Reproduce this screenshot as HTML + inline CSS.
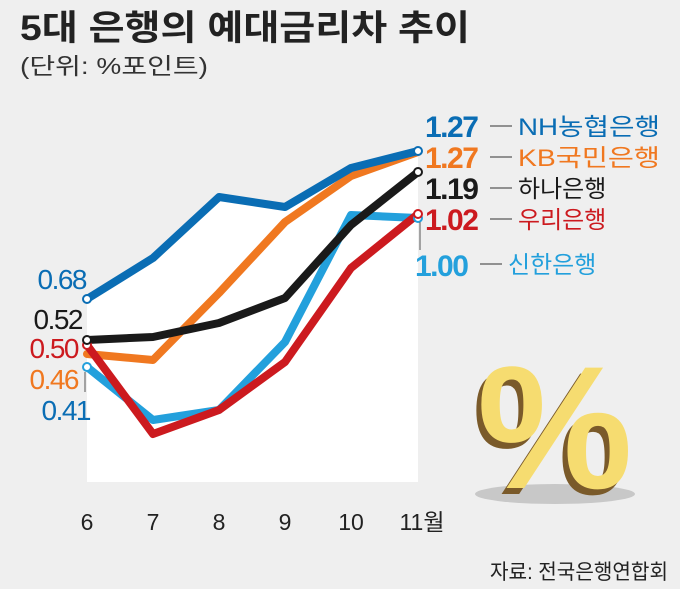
<!DOCTYPE html>
<html><head><meta charset="utf-8"><style>
body{margin:0;width:680px;height:589px;background:#efefef;overflow:hidden;font-family:"Liberation Sans","Noto Sans CJK KR",sans-serif}
</style></head><body>
<svg width="680" height="589" xmlns="http://www.w3.org/2000/svg" style="position:absolute;left:0;top:0">
<rect width="680" height="589" fill="#efefef"/>
<text x="20" y="40" font-size="35" font-weight="bold" fill="#222" font-family="Liberation Sans,Noto Sans CJK KR,sans-serif" textLength="450" lengthAdjust="spacingAndGlyphs">5대 은행의 예대금리차 추이</text>
<text x="20" y="74" font-size="23" fill="#333" font-family="Liberation Sans,Noto Sans CJK KR,sans-serif" textLength="188" lengthAdjust="spacingAndGlyphs">(단위: %포인트)</text>
<polygon points="87,299 153,258 219,197 285,207 351,168 418,151 418,482 87,482" fill="#fff"/>
<g fill="none" stroke-width="8" stroke-linejoin="round" stroke-linecap="round">
<polyline points="87,367 153,420 219,410 285,342 351,215 418,218" stroke="#23a0dc"/>
<polyline points="87,354 153,360 219,293 285,222 351,176 418,152" stroke="#f07820"/>
<polyline points="87,299 153,258 219,197 285,207 351,168 418,151" stroke="#0a6db4"/>
<polyline points="87,340 153,337 219,323 285,298 351,225 418,172" stroke="#1a1a1a"/>
<polyline points="87,345 153,434 219,410 285,362 351,268 418,214" stroke="#cc1a1f"/>
</g>
<g fill="#fff" stroke-width="2">
<circle cx="87" cy="367" r="4" stroke="#23a0dc"/>
<circle cx="87" cy="299" r="4" stroke="#0a6db4"/>
<circle cx="87" cy="345" r="4" stroke="#cc1a1f"/>
<circle cx="87" cy="340" r="4" stroke="#1a1a1a"/>
<circle cx="418" cy="218" r="4" stroke="#23a0dc"/>
<circle cx="418" cy="151" r="4" stroke="#0a6db4"/>
<circle cx="418" cy="172" r="4" stroke="#1a1a1a"/>
<circle cx="418" cy="214" r="4" stroke="#cc1a1f"/>
</g>
<line x1="85" y1="372" x2="85" y2="392" stroke="#555"/>
<line x1="420" y1="222" x2="420" y2="250" stroke="#555"/>
<g font-size="28" font-family="Liberation Sans,sans-serif" text-anchor="end" letter-spacing="-1.5">
<text x="86" y="289" fill="#0a6db4">0.68</text>
<text x="82" y="329" fill="#1a1a1a">0.52</text>
<text x="78" y="358" fill="#cc1a1f">0.50</text>
<text x="78" y="389" fill="#f07820">0.46</text>
<text x="90" y="420" fill="#0a6db4">0.41</text>
</g>
<g font-size="30" font-weight="bold" font-family="Liberation Sans,sans-serif" letter-spacing="-1.5">
<text x="425" y="137" fill="#0a6db4">1.27</text>
<text x="425" y="168" fill="#f07820">1.27</text>
<text x="425" y="199" fill="#1a1a1a">1.19</text>
<text x="425" y="230" fill="#cc1a1f">1.02</text>
<text x="415" y="276" fill="#23a0dc">1.00</text>
</g>
<g stroke="#333" stroke-width="1">
<line x1="490" y1="126" x2="512" y2="126"/><line x1="490" y1="157" x2="512" y2="157"/>
<line x1="490" y1="188" x2="512" y2="188"/><line x1="490" y1="219" x2="512" y2="219"/>
<line x1="480" y1="264" x2="502" y2="264"/>
</g>
<g font-size="24" font-family="Liberation Sans,Noto Sans CJK KR,sans-serif">
<text x="518" y="135" fill="#0a6db4" textLength="142" lengthAdjust="spacingAndGlyphs">NH농협은행</text>
<text x="518" y="166" fill="#f07820" textLength="142" lengthAdjust="spacingAndGlyphs">KB국민은행</text>
<text x="518" y="197" fill="#1a1a1a">하나은행</text>
<text x="518" y="228" fill="#cc1a1f">우리은행</text>
<text x="508" y="273" fill="#23a0dc">신한은행</text>
</g>
<g font-size="23" fill="#222" text-anchor="middle" font-family="Liberation Sans,Noto Sans CJK KR,sans-serif">
<text x="87" y="530">6</text><text x="153" y="530">7</text><text x="219" y="530">8</text>
<text x="285" y="530">9</text><text x="351" y="530">10</text><text x="422" y="530">11월</text>
</g>
<ellipse cx="555" cy="494" rx="80" ry="10" fill="#c8c8c8"/>
<g font-size="175" font-weight="bold" font-family="Liberation Sans,sans-serif">
<text x="472" y="494" fill="#7a5a2a">%</text>
<text x="477" y="488" fill="#f6dc70">%</text>
</g>
<text x="668" y="579" font-size="21" fill="#222" text-anchor="end" font-family="Liberation Sans,Noto Sans CJK KR,sans-serif" textLength="178" lengthAdjust="spacingAndGlyphs">자료: 전국은행연합회</text>
</svg>
</body></html>
